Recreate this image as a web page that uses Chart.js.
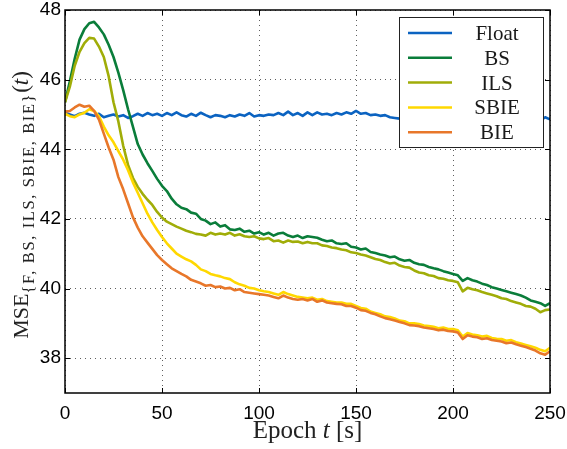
<!DOCTYPE html>
<html>
<head>
<meta charset="utf-8">
<script src="https://cdn.jsdelivr.net/npm/chart.js@4"></script>
<style>
  html, body { margin: 0; padding: 0; background: #fff; }
  canvas { display: block; }
</style>
</head>
<body>
<canvas id="mseChart" width="567" height="449"></canvas>
<script>
// epochs sampled every 2.5 s, 0..250
const epochs = Array.from({ length: 101 }, (_, i) => i * 2.5);

const xTicks = [0, 50, 100, 150, 200, 250];
const yTicks = [38, 40, 42, 44, 46, 48];

const seriesNames = ["Float", "BS", "ILS", "SBIE", "BIE"];
const seriesColors = ["#0b63c1", "#0a7d3a", "#a0ad08", "#ffd800", "#e8772a"];

const floatMse = [
    45.05, 45.00, 44.95, 45.02, 45.05, 45.00, 44.96, 45.02, 44.92, 44.96,
    45.00, 44.94, 44.98, 44.90, 44.95, 45.02, 44.96, 45.04, 44.98, 45.02,
    44.96, 45.04, 44.98, 45.06, 44.98, 44.94, 45.02, 44.96, 45.05, 44.98,
    44.92, 44.98, 44.96, 44.92, 44.98, 44.94, 45.00, 44.96, 45.04, 44.94,
    44.98, 44.96, 45.00, 44.98, 45.04, 44.98, 45.08, 44.98, 45.04, 44.96,
    45.06, 44.98, 45.06, 45.00, 45.02, 44.98, 45.04, 45.00, 45.06, 45.02,
    45.10, 45.02, 45.04, 44.98, 45.00, 44.96, 44.98, 44.92, 44.90, 44.88,
    44.90, 44.94, 44.88, 44.92, 44.86, 44.90, 44.94, 44.88, 44.92, 44.86,
    44.90, 44.94, 44.88, 44.92, 44.86, 44.90, 44.88, 44.92, 44.86, 44.90,
    44.84, 44.88, 44.92, 44.86, 44.88, 44.84, 44.86, 44.80, 44.82, 44.92,
    44.86
];
const bsMse = [
    45.35, 45.95, 46.60, 47.15, 47.45, 47.62, 47.66, 47.50, 47.30, 47.00,
    46.65, 46.20, 45.70, 45.15, 44.65, 44.15, 43.85, 43.60, 43.38, 43.15,
    42.95, 42.80, 42.58, 42.42, 42.32, 42.28, 42.18, 42.15, 42.00, 41.95,
    41.85, 41.90, 41.78, 41.82, 41.70, 41.68, 41.72, 41.63, 41.66, 41.58,
    41.62, 41.55, 41.60, 41.52, 41.58, 41.60, 41.52, 41.48, 41.52, 41.45,
    41.50, 41.48, 41.46, 41.40, 41.36, 41.38, 41.30, 41.28, 41.30, 41.20,
    41.18, 41.12, 41.15, 41.05, 41.02, 40.98, 40.95, 40.90, 40.92, 40.84,
    40.80, 40.82, 40.74, 40.70, 40.68, 40.62, 40.58, 40.55, 40.50, 40.46,
    40.42, 40.38, 40.22, 40.30, 40.24, 40.20, 40.14, 40.10, 40.04, 40.00,
    39.96, 39.92, 39.88, 39.84, 39.80, 39.74, 39.66, 39.62, 39.58, 39.50,
    39.58
];
const ilsMse = [
    45.35, 45.80, 46.40, 46.80, 47.05, 47.20, 47.18, 46.95, 46.65, 46.10,
    45.35, 44.80, 44.10, 43.55, 43.18, 42.92, 42.72, 42.55, 42.40, 42.20,
    42.04, 41.92, 41.85, 41.78, 41.72, 41.66, 41.62, 41.57, 41.55, 41.52,
    41.60, 41.55, 41.58, 41.55, 41.60, 41.52, 41.56, 41.50, 41.48, 41.50,
    41.44, 41.42, 41.45, 41.36, 41.38, 41.32, 41.38, 41.34, 41.35, 41.30,
    41.34, 41.30, 41.30, 41.24, 41.22, 41.18, 41.16, 41.12, 41.10, 41.04,
    41.02, 40.98, 40.95, 40.90, 40.85, 40.82, 40.76, 40.72, 40.74, 40.66,
    40.62, 40.60, 40.52, 40.46, 40.44, 40.38, 40.36, 40.30, 40.28, 40.24,
    40.22, 40.18, 39.92, 40.02, 39.98, 39.95, 39.90, 39.86, 39.82, 39.78,
    39.72, 39.70, 39.64, 39.60, 39.56, 39.50, 39.48, 39.42, 39.32, 39.38,
    39.40
];
const sbieMse = [
    45.02, 44.95, 44.92, 45.00, 45.05, 45.15, 45.10, 44.95, 44.65, 44.40,
    44.20, 43.95, 43.70, 43.40, 43.05, 42.75, 42.45, 42.15, 41.90, 41.68,
    41.48, 41.30, 41.15, 41.00, 40.92, 40.84, 40.78, 40.68, 40.55, 40.50,
    40.42, 40.38, 40.35, 40.30, 40.27, 40.18, 40.12, 40.08, 40.02, 40.00,
    39.95, 39.92, 39.90, 39.86, 39.82, 39.90, 39.84, 39.80, 39.76, 39.74,
    39.72, 39.74, 39.68, 39.70, 39.64, 39.62, 39.60, 39.60, 39.56, 39.56,
    39.50, 39.44, 39.42, 39.34, 39.30, 39.26, 39.20, 39.18, 39.14, 39.08,
    39.06, 39.00, 39.00, 38.98, 38.94, 38.92, 38.90, 38.86, 38.88, 38.84,
    38.84, 38.80, 38.62, 38.72, 38.68, 38.66, 38.62, 38.64, 38.58, 38.56,
    38.55, 38.50, 38.52, 38.46, 38.42, 38.38, 38.34, 38.30, 38.24, 38.20,
    38.30
];
const bieMse = [
    45.08, 45.10, 45.20, 45.28, 45.22, 45.25, 45.10, 44.85, 44.45, 44.05,
    43.70, 43.20, 42.85, 42.45, 42.05, 41.75, 41.50, 41.32, 41.14, 40.96,
    40.82, 40.70, 40.58, 40.50, 40.42, 40.35, 40.25, 40.20, 40.15, 40.08,
    40.10, 40.04, 40.06, 40.00, 40.02, 39.95, 39.98, 39.90, 39.88, 39.86,
    39.84, 39.82, 39.80, 39.76, 39.72, 39.80, 39.74, 39.70, 39.68, 39.70,
    39.66, 39.70, 39.62, 39.66, 39.60, 39.58, 39.56, 39.55, 39.50, 39.50,
    39.45, 39.38, 39.36, 39.30, 39.26, 39.20, 39.15, 39.12, 39.08, 39.04,
    39.00, 38.95, 38.94, 38.92, 38.88, 38.86, 38.84, 38.80, 38.82, 38.78,
    38.77, 38.74, 38.55, 38.66, 38.62, 38.60, 38.55, 38.57, 38.52, 38.50,
    38.48, 38.43, 38.45, 38.40, 38.36, 38.32, 38.27, 38.22, 38.14, 38.10,
    38.20
];

const seriesValues = [floatMse, bsMse, ilsMse, sbieMse, bieMse];

const SERIF = '"Liberation Serif", "Times New Roman", serif';
const SANS = '"Liberation Sans", Arial, sans-serif';

// frame, inward ticks, legend box and axis titles (drawn on top of the lines)
const decorations = {
    id: "decorations",
    afterDraw(chart) {
        const { ctx, chartArea: a, scales: { x, y } } = chart;
        ctx.save();
        ctx.strokeStyle = "#000";
        ctx.lineWidth = 1;
        ctx.beginPath();
        xTicks.forEach(v => {
            const px = Math.round(x.getPixelForValue(v)) + 0.5;
            ctx.moveTo(px, a.bottom); ctx.lineTo(px, a.bottom - 5);
            ctx.moveTo(px, a.top); ctx.lineTo(px, a.top + 5);
        });
        yTicks.forEach(v => {
            const py = Math.round(y.getPixelForValue(v)) + 0.5;
            ctx.moveTo(a.left, py); ctx.lineTo(a.left + 5, py);
            ctx.moveTo(a.right, py); ctx.lineTo(a.right - 5, py);
        });
        ctx.stroke();
        ctx.lineWidth = 1.5;
        ctx.strokeRect(a.left, a.top, a.right - a.left, a.bottom - a.top);

        // legend
        const lx = a.right - 151, ly = a.top + 7, lw = 144, lh = 130;
        ctx.fillStyle = "#fff";
        ctx.fillRect(lx, ly, lw, lh);
        ctx.lineWidth = 1;
        ctx.strokeStyle = "#222";
        ctx.strokeRect(lx + 0.5, ly + 0.5, lw, lh);
        ctx.font = "21px " + SERIF;
        ctx.textAlign = "center";
        ctx.textBaseline = "alphabetic";
        seriesNames.forEach((name, i) => {
            const rowY = ly + 16 + i * 24.8;
            ctx.strokeStyle = seriesColors[i];
            ctx.lineWidth = 2.5;
            ctx.beginPath();
            ctx.moveTo(lx + 9, rowY);
            ctx.lineTo(lx + 53, rowY);
            ctx.stroke();
            ctx.fillStyle = "#1a1a1a";
            ctx.fillText(name, lx + 98, rowY + 7);
        });

        // x title: Epoch t [s]
        ctx.fillStyle = "#222";
        ctx.textAlign = "left";
        const partsX = [["Epoch ", "25px " + SERIF], ["t", "italic 25px " + SERIF], [" [s]", "25px " + SERIF]];
        let total = 0;
        partsX.forEach(p => { ctx.font = p[1]; total += ctx.measureText(p[0]).width; });
        let cx = (a.left + a.right) / 2 - total / 2;
        partsX.forEach(p => {
            ctx.font = p[1];
            ctx.fillText(p[0], cx, 438);
            cx += ctx.measureText(p[0]).width;
        });

        // y title: MSE_{F,BS,ILS,SBIE,BIE}(t)
        ctx.translate(28, 205);
        ctx.rotate(-Math.PI / 2);
        const partsY = [
            ["MSE", "22px " + SERIF, 0, "0px"],
            ["{F, BS, ILS, SBIE, BIE}", "16.5px " + SERIF, 6, "1.6px"],
            ["(", "23px " + SERIF, 0, "0px"],
            ["t", "italic 23px " + SERIF, 0, "0px"],
            [")", "23px " + SERIF, 0, "0px"]
        ];
        total = 0;
        partsY.forEach(p => { ctx.font = p[1]; ctx.letterSpacing = p[3]; total += ctx.measureText(p[0]).width; });
        cx = -total / 2;
        partsY.forEach(p => {
            ctx.font = p[1];
            ctx.letterSpacing = p[3];
            ctx.fillText(p[0], cx, p[2]);
            cx += ctx.measureText(p[0]).width;
        });
        ctx.restore();
    }
};

const datasets = seriesNames.map((name, i) => ({
    label: name,
    data: epochs.map((e, k) => ({ x: e, y: seriesValues[i][k] })),
    borderColor: seriesColors[i],
    borderWidth: 2.6,
    pointRadius: 0,
    tension: 0,
    borderJoinStyle: "round",
    fill: false,
    order: seriesNames.length - i
}));

new Chart(document.getElementById("mseChart").getContext("2d"), {
    type: "line",
    data: { datasets },
    options: {
        responsive: false,
        animation: false,
        events: [],
        layout: { padding: { top: 10, right: 17, left: 0, bottom: 0 } },
        plugins: { legend: { display: false }, tooltip: { enabled: false } },
        scales: {
            x: {
                type: "linear",
                min: 0,
                max: 250,
                afterBuildTicks: s => { s.ticks = xTicks.map(v => ({ value: v })); },
                afterFit: s => { s.height = 56; s.paddingLeft = 0; s.paddingRight = 0; },
                grid: { color: "rgba(40,40,40,0.75)", lineWidth: 1, drawTicks: false },
                border: { display: false, dash: [1, 4] },
                ticks: { color: "#000", font: { family: SANS, size: 19 }, padding: 9, maxRotation: 0 }
            },
            y: {
                type: "linear",
                min: 37,
                max: 48,
                afterBuildTicks: s => { s.ticks = yTicks.map(v => ({ value: v })); },
                afterFit: s => { s.width = 65; s.paddingTop = 0; s.paddingBottom = 0; },
                grid: { color: "rgba(40,40,40,0.75)", lineWidth: 1, drawTicks: false },
                border: { display: false, dash: [1, 4] },
                ticks: { color: "#000", font: { family: SANS, size: 19 }, padding: 4 }
            }
        }
    },
    plugins: [decorations]
});
</script>
</body>
</html>
